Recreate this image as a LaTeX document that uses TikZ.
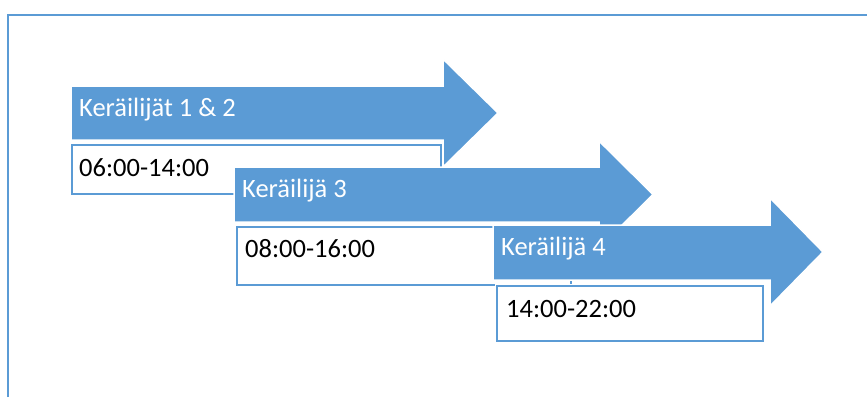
\documentclass[tikz,border=0pt]{standalone}
\usepackage{fontspec}
\setmainfont{Carlito}
\definecolor{shiftblue}{HTML}{5B9BD5}
\begin{document}
\begin{tikzpicture}[x=1pt,y=-1pt,
  shiftarrow/.style={fill=shiftblue,draw=white,line width=1.5pt,line join=miter},
  timebox/.style={preaction={draw=white,line width=5pt},draw=shiftblue,line width=2pt,fill=white},
  labeltext/.style={anchor=base west,inner sep=0pt,font=\fontsize{26.5}{30}\selectfont},
  frame/.style={draw=shiftblue,line width=1.6pt}]
\useasboundingbox (0,0) rectangle (867,397);
% outer frame (top and left edges)
\draw[frame] (8,397) -- (8,15) -- (867,15);

% shift 1
\draw[shiftarrow] (71,86) -- (443,86) -- (443,59) -- (498,113) -- (443,167) -- (443,140) -- (71,140) -- cycle;
\node[labeltext,text=white] (n1) at (79,116) {Keräilijät 1 \& 2};
\draw[timebox] (72,145) rectangle (441,194);
\node[labeltext] (t1) at (79,176) {06:00-14:00};

% shift 2
\draw[shiftarrow] (234,167) -- (599,167) -- (599,141) -- (653,194.5) -- (599,248) -- (599,222) -- (234,222) -- cycle;
\node[labeltext,text=white] (n2) at (242,197) {Keräilijä 3};
\draw[timebox] (237,227) rectangle (571,285);
\node[labeltext] (t2) at (245,257) {08:00-16:00};

% shift 3
\draw[shiftarrow] (493,225) -- (770,225) -- (770,198) -- (823,252) -- (770,306) -- (770,280) -- (493,280) -- cycle;
\node[labeltext,text=white] (n3) at (501,255) {Keräilijä 4};
\draw[timebox] (497,286) rectangle (763,341);
\node[labeltext] (t3) at (506,317) {14:00-22:00};
\end{tikzpicture}
\end{document}
